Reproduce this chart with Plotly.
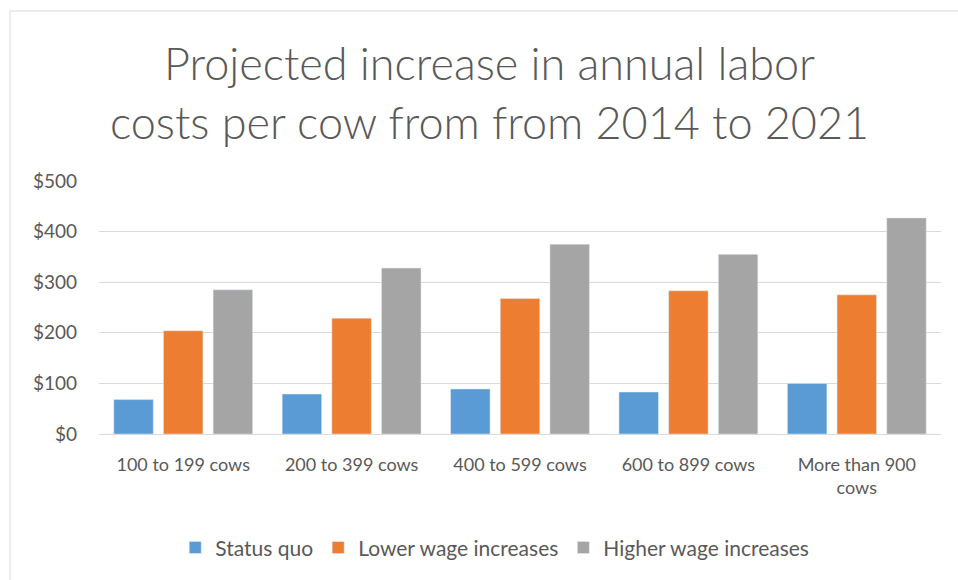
import plotly.graph_objects as go

categories = ["100 to 199 cows", "200 to 399 cows", "400 to 599 cows", "600 to 899 cows", "More than 900<br>cows"]
status_quo = [68, 79, 89, 83, 100]
lower_wage = [204, 229, 268, 283, 275]
higher_wage = [285, 328, 375, 355, 427]
tick_vals = [0, 100, 200, 300, 400, 500]
tick_text = ["$0", "$100", "$200", "$300", "$400", "$500"]

FONT = "Lato"
TXT = "#595959"

fig = go.Figure()
fig.add_trace(go.Bar(name="Status quo", x=categories, y=status_quo, marker_color="#5B9BD5"))
fig.add_trace(go.Bar(name="Lower wage increases", x=categories, y=lower_wage, marker_color="#ED7D31"))
fig.add_trace(go.Bar(name="Higher wage increases", x=categories, y=higher_wage, marker_color="#A5A5A5"))

fig.update_layout(
    width=958, height=580,
    margin=dict(l=99, r=17, t=181, b=146),
    paper_bgcolor="white", plot_bgcolor="white",
    barmode="group", bargap=0.115, bargroupgap=0.205,
    title=dict(text="Projected increase in annual labor<br>costs per cow from from 2014 to 2021",
               x=0.511, xanchor="center", y=0.862, yanchor="middle",
               font=dict(family=FONT, size=45, color=TXT, weight=300)),
    font=dict(family=FONT, color=TXT),
    showlegend=True,
    legend=dict(orientation="h", x=0.47, xanchor="center", y=-0.45, yanchor="middle",
                font=dict(family=FONT, size=21, color=TXT), itemwidth=30),
    xaxis=dict(tickangle=0, tickfont=dict(size=18, color=TXT), showline=True, linecolor="#D9D9D9",
               linewidth=1, ticks="", ticklabelstandoff=14),
    yaxis=dict(range=[0, 500], tickvals=tick_vals, ticktext=tick_text, gridcolor="#D9D9D9",
               tickfont=dict(size=19, color=TXT), zeroline=False, ticklabelstandoff=21),
    shapes=[dict(type="rect", xref="paper", yref="paper", x0=-0.1057, x1=1.2, y0=-1.0, y1=1.672,
                 line=dict(color="#D9D9D9", width=1), fillcolor="rgba(0,0,0,0)", layer="below")],
)

fig.write_html("out.html")
